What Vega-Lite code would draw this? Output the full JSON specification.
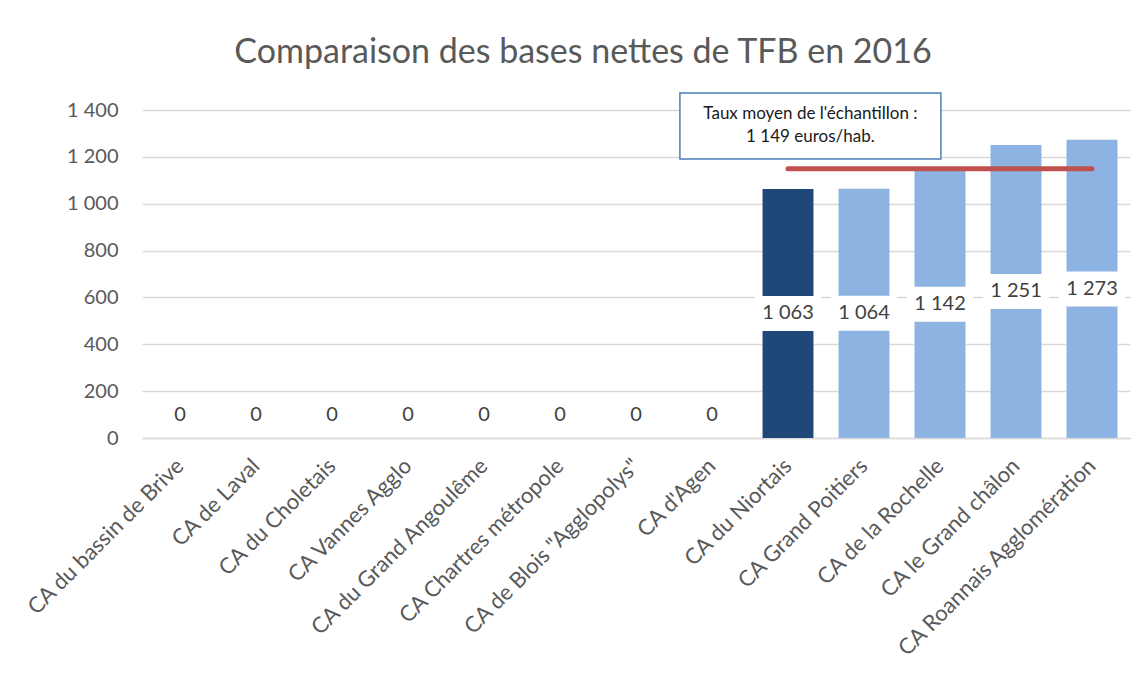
{
  "$schema": "https://vega.github.io/schema/vega-lite/v6.json",
  "width": 988,
  "height": 328,
  "autosize": "none",
  "padding": {"left": 142, "top": 110, "right": 16, "bottom": 237},
  "background": "white",
  "config": {
    "locale": {"number": {"decimal": ",", "thousands": " ", "grouping": [3], "currency": ["", " €"]}},
    "font": "Lato",
    "view": {"stroke": null}
  },
  "title": {
    "text": "Comparaison des bases nettes de TFB en 2016",
    "fontSize": 34,
    "font": "Lato",
    "fontWeight": "normal",
    "color": "#595959",
    "anchor": "middle",
    "frame": "group",
    "dx": -53,
    "dy": 41,
    "baseline": "alphabetic",
    "offset": 34
  },
  "data": {
    "values": [
      {"name": "CA du bassin de Brive", "value": 0},
      {"name": "CA de Laval", "value": 0},
      {"name": "CA du Choletais", "value": 0},
      {"name": "CA Vannes Agglo", "value": 0},
      {"name": "CA du Grand Angoulême", "value": 0},
      {"name": "CA Chartres métropole", "value": 0},
      {"name": "CA de Blois \"Agglopolys\"", "value": 0},
      {"name": "CA d'Agen", "value": 0},
      {"name": "CA du Niortais", "value": 1063},
      {"name": "CA Grand Poitiers", "value": 1064},
      {"name": "CA de la Rochelle", "value": 1142},
      {"name": "CA le Grand châlon", "value": 1251},
      {"name": "CA Roannais Agglomération", "value": 1273}
    ]
  },
  "encoding": {
    "x": {
      "field": "name",
      "type": "nominal",
      "sort": null,
      "scale": {"paddingInner": 0.33, "paddingOuter": 0.165},
      "axis": {
        "title": null,
        "labelAngle": -45,
        "labelAlign": "right",
        "labelBaseline": "middle",
        "labelFontSize": 22,
        "labelFont": "Lato",
        "labelColor": "#595959",
        "labelPadding": 24,
        "ticks": false,
        "domainColor": "#d9d9d9",
        "domainWidth": 1.3,
        "labelLimit": 400
      }
    }
  },
  "layer": [
    {
      "mark": {"type": "bar"},
      "encoding": {
        "y": {
          "field": "value",
          "type": "quantitative",
          "scale": {"domain": [0, 1400], "nice": false},
          "axis": {
            "title": null,
            "values": [0, 200, 400, 600, 800, 1000, 1200, 1400],
            "format": ",.0f",
            "grid": true,
            "gridColor": "#d9d9d9",
            "gridWidth": 1.3,
            "domain": false,
            "ticks": false,
            "labelFontSize": 20,
            "labelFont": "Lato",
            "labelColor": "#595959",
            "labelPadding": 24
          }
        },
        "color": {
          "condition": {"test": "datum.name === 'CA du Niortais'", "value": "#1F4878"},
          "value": "#8DB3E2"
        }
      }
    },
    {
      "transform": [{"filter": "datum.value > 0"}],
      "mark": {"type": "tick", "color": "white", "opacity": 1, "size": 66, "thickness": 35},
      "encoding": {
        "y": {"field": "value", "type": "quantitative", "stack": "zero", "bandPosition": 0.5}
      }
    },
    {
      "transform": [{"filter": "datum.value > 0"}],
      "mark": {"type": "text", "fontSize": 20, "font": "Lato", "color": "#404040", "baseline": "middle"},
      "encoding": {
        "y": {"field": "value", "type": "quantitative", "stack": "zero", "bandPosition": 0.5},
        "text": {"field": "value", "type": "quantitative", "format": ",.0f"}
      }
    },
    {
      "transform": [{"filter": "datum.value == 0"}],
      "mark": {"type": "text", "fontSize": 20, "font": "Lato", "color": "#404040", "baseline": "middle", "dy": -23},
      "encoding": {
        "y": {"field": "value", "type": "quantitative"},
        "text": {"field": "value", "type": "quantitative", "format": ",.0f"}
      }
    },
    {
      "data": {"values": [{"moyenne": 1149}]},
      "mark": {"type": "rule", "color": "#C0504D", "strokeWidth": 5, "strokeCap": "round"},
      "encoding": {
        "x": {"datum": "CA du Niortais"},
        "x2": {"datum": "CA Roannais Agglomération"},
        "y": {"field": "moyenne", "type": "quantitative"}
      }
    },
    {
      "data": {"values": [{"moyenne": 1149}]},
      "mark": {"type": "point", "shape": "M-1,-0.2529L1,-0.2529L1,0.2529L-1,0.2529Z", "size": 68121, "filled": true, "fill": "white", "stroke": "#4A7EBB", "strokeWidth": 1.5, "opacity": 1, "fillOpacity": 1, "strokeOpacity": 1},
      "encoding": {
        "x": {"datum": "CA du Niortais", "bandPosition": 0.94},
        "y": {"datum": 1332}
      }
    },
    {
      "data": {"values": [{"moyenne": 1149}]},
      "mark": {"type": "text", "fontSize": 17, "font": "Lato", "color": "#1a1a1a", "baseline": "middle", "lineHeight": 23, "dy": -11.5, "text": ["Taux moyen de l'échantillon :", "1 149 euros/hab."]},
      "encoding": {
        "x": {"datum": "CA du Niortais", "bandPosition": 0.94},
        "y": {"datum": 1332}
      }
    }
  ]
}
